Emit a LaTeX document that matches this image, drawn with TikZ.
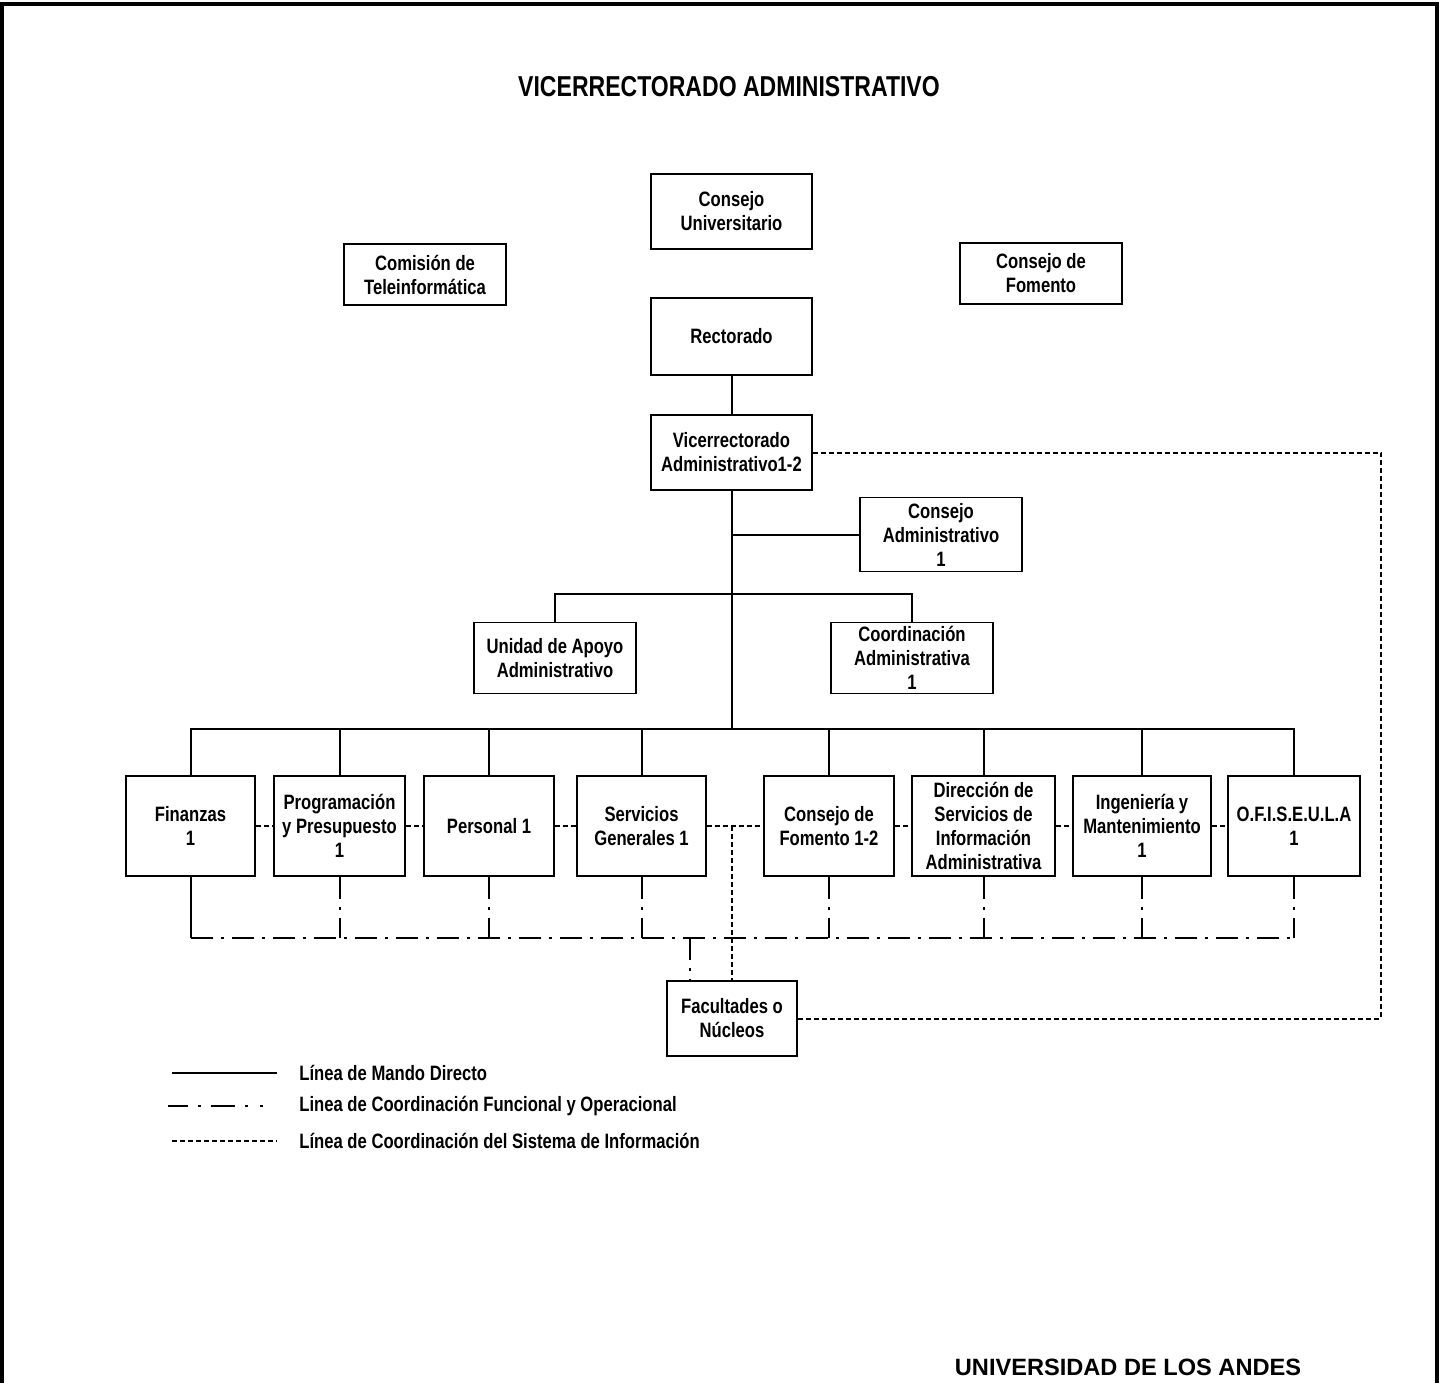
\documentclass[tikz,border=0pt]{standalone}
\usepackage{fontspec}
\setmainfont{Liberation Sans}[FakeStretch=0.8]
\newfontfamily\widefont{Liberation Sans}
\begin{document}
\begin{tikzpicture}[x=0.5pt,y=-0.5pt,
  orgbox/.style={draw, line width=0.8pt, rectangle, inner sep=0pt, align=center,
    font=\fontsize{10.4}{12}\selectfont\bfseries},
  wh/.style 2 args={minimum width=#1*0.5pt, minimum height=#2*0.5pt},
  mando/.style={line width=1pt},
  infoline/.style={line width=1pt, dash pattern=on 2.5pt off 1.5pt},
  coordline/.style={line width=1pt, dash pattern=on 11pt off 4pt on 1.5pt off 4pt},
  legline/.style={line width=1pt, dash pattern=on 10pt off 5pt on 1.5pt off 5pt on 12pt off 5pt on 1.5pt off 6pt on 1.5pt off 20pt},
  lbl/.style={anchor=west, inner sep=0pt, font=\fontsize{10.4}{12}\selectfont\bfseries},
  frame/.style={line width=1.8pt}]
\useasboundingbox (0,0) rectangle (1440,1383);

% frame
\coordinate (fr1) at (2,1383);
\coordinate (fr2) at (2,4);
\coordinate (fr3) at (1437,4);
\coordinate (fr4) at (1437,1383);
\draw[frame] (fr1) -- (fr2) -- (fr3) -- (fr4);

% title
\node[font=\fontsize{14.4}{17}\selectfont\bfseries] (title) at (729,87) {VICERRECTORADO ADMINISTRATIVO};

% boxes
\node[orgbox, wh={161}{75}] (cu) at (731.5,211.5) {Consejo\\Universitario};
\node[orgbox, wh={162}{61}] (ct) at (425,274.5) {Comisión de\\Teleinformática};
\node[orgbox, wh={162}{61}] (cf) at (1041,273.5) {Consejo de\\Fomento};
\node[orgbox, wh={161}{77}] (rec) at (731.5,336.5) {Rectorado};
\node[orgbox, wh={161}{75}] (vice) at (731.5,452.5) {Vicerrectorado\\Administrativo1-2};
\node[orgbox, wh={162}{74}] (cadm) at (941,534.5) {Consejo\\Administrativo\\1};
\node[orgbox, wh={162}{71}] (uaa) at (555,658) {Unidad de Apoyo\\Administrativo};
\node[orgbox, wh={162}{71}] (coord) at (912,658) {Coordinación\\Administrativa\\1};

\node[orgbox, wh={129}{100}] (fin) at (190.5,826) {Finanzas\\1};
\node[orgbox, wh={131}{100}] (prog) at (339.5,826) {Programación\\y Presupuesto\\1};
\node[orgbox, wh={130}{100}] (pers) at (489,826) {Personal 1};
\node[orgbox, wh={129}{100}] (serv) at (641.5,826) {Servicios\\Generales 1};
\node[orgbox, wh={130}{100}] (cfom) at (829,826) {Consejo de\\Fomento 1-2};
\node[orgbox, wh={143}{100}] (dsia) at (983.5,826) {Dirección de\\Servicios de\\Información\\Administrativa};
\node[orgbox, wh={138}{100}] (ing) at (1142,826) {Ingeniería y\\Mantenimiento\\1};
\node[orgbox, wh={132}{100}] (ofi) at (1294,826) {O.F.I.S.E.U.L.A\\1};

\node[orgbox, wh={130}{75}] (fac) at (732,1018.5) {Facultades o\\Núcleos};

% direct command lines
\coordinate (b1) at (731.5,534.5);
\coordinate (b2) at (731.5,594);
\coordinate (b3) at (731.5,729);
\draw[mando] (rec.south) -- (vice.north);
\draw[mando] (vice.south) -- (b3);
\draw[mando] (b1) -- (cadm.west);
\draw[mando] (uaa.north) |- (b2) -| (coord.north);
\draw[mando] (fin.north) |- (b3) -| (ofi.north);
\foreach \n in {prog,pers,serv,cfom,dsia,ing}
  \draw[mando] (\n.north) -- (\n.north |- b3);

% information system lines
\draw[infoline] (fin.east) -- (prog.west);
\draw[infoline] (prog.east) -- (pers.west);
\draw[infoline] (pers.east) -- (serv.west);
\draw[infoline] (serv.east) -- (cfom.west);
\draw[infoline] (cfom.east) -- (dsia.west);
\draw[infoline] (dsia.east) -- (ing.west);
\draw[infoline] (ing.east) -- (ofi.west);
\coordinate (jn) at (732,826);
\draw[infoline] (jn) -- (fac.north);
\coordinate (r2) at (1381,1018.5);
\draw[infoline] (vice.east) -| (r2) -- (fac.east);

% functional coordination lines
\coordinate (cl) at (190.5,938);
\coordinate (cr) at (1294,938);
\draw[mando] (fin.south) -- (cl);
\draw[coordline] (cl) -- (cr);
\foreach \n in {prog,pers,serv,cfom,dsia,ing,ofi}
  \draw[coordline] (\n.south) -- (\n.south |- cl);
\coordinate (fk) at (690,938);
\draw[coordline] (fk) -- (fk |- fac.north);

% legend
\coordinate (l1a) at (172,1073); \coordinate (l1b) at (277,1073);
\coordinate (l2a) at (168,1106); \coordinate (l2b) at (277,1106);
\coordinate (l3a) at (172,1141); \coordinate (l3b) at (277,1141);
\draw[mando] (l1a) -- (l1b);
\draw[legline] (l2a) -- (l2b);
\draw[infoline] (l3a) -- (l3b);
\node[lbl] (t1) at (299,1073) {Línea de Mando Directo};
\node[lbl] (t2) at (299,1106) {Linea de Coordinación Funcional y Operacional};
\node[lbl] (t3) at (299,1141) {Línea de Coordinación del Sistema de Información};

% footer
\node[font=\widefont\fontsize{11.8}{14}\selectfont\bfseries] (ula) at (1128,1367) {UNIVERSIDAD DE LOS ANDES};
\end{tikzpicture}
\end{document}
